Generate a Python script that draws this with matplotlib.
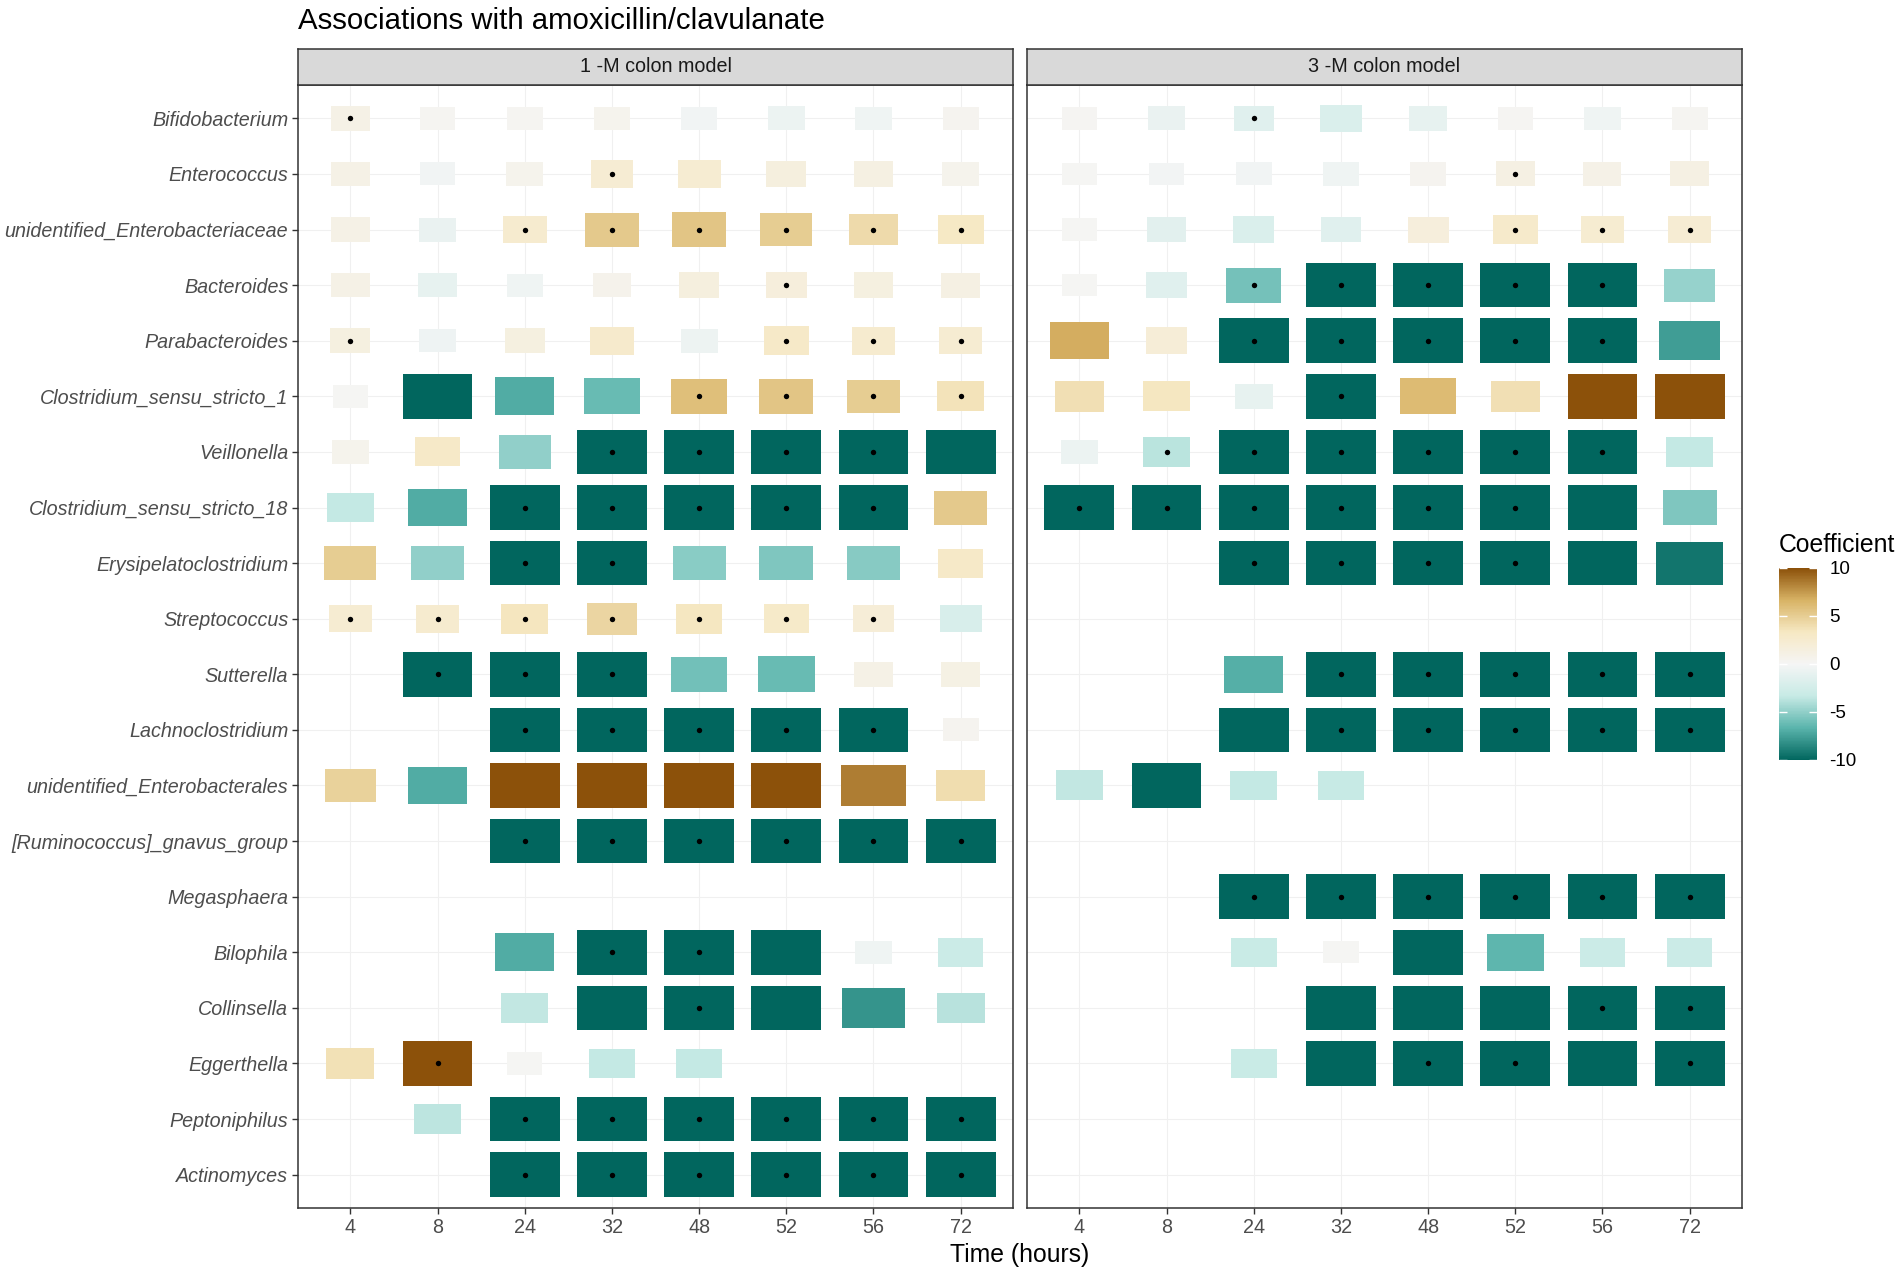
import numpy as np
import matplotlib
matplotlib.use('Agg')
import matplotlib.pyplot as plt
from matplotlib.colors import LinearSegmentedColormap, Normalize
from matplotlib.cm import ScalarMappable

plt.rcParams['font.family'] = ['Liberation Sans', 'DejaVu Sans']
plt.rcParams['axes.unicode_minus'] = False

N = None

taxa = ['Bifidobacterium', 'Enterococcus', 'unidentified_Enterobacteriaceae',
        'Bacteroides', 'Parabacteroides', 'Clostridium_sensu_stricto_1',
        'Veillonella', 'Clostridium_sensu_stricto_18', 'Erysipelatoclostridium',
        'Streptococcus', 'Sutterella', 'Lachnoclostridium',
        'unidentified_Enterobacterales', '[Ruminococcus]_gnavus_group',
        'Megasphaera', 'Bilophila', 'Collinsella', 'Eggerthella',
        'Peptoniphilus', 'Actinomyces']
times = ['4', '8', '24', '32', '48', '52', '56', '72']
panels = ['1 -M colon model', '3 -M colon model']

# coefficients per taxon (rows) and time point (columns), 1-M model
coef_1m = [
    [1.0, 0.3, 0.3, 0.5, -0.3, -0.7, -0.4, 0.4],
    [1.0, -0.3, 0.6, 2.2, 2.3, 1.5, 1.3, 0.6],
    [1.0, -0.8, 2.5, 5.3, 5.5, 5.0, 4.2, 3.2],
    [1.0, -1.0, -0.4, 0.7, 1.5, 1.7, 1.4, 1.2],
    [1.4, -0.5, 1.4, 2.7, -0.6, 3.0, 2.5, 2.3],
    [0.1, -10, -7.0, -6.2, 5.9, 5.5, 5.0, 3.6],
    [0.6, 3.0, -5.0, -10, -10, -10, -10, -10],
    [-3.4, -7.0, -10, -10, -10, -10, -10, 5.3],
    [5.0, -5.0, -10, -10, -5.2, -5.5, -5.3, 3.0],
    [2.3, 2.5, 3.5, 4.5, 3.4, 2.9, 2.0, -2.1],
    [N, -10, -10, -10, -5.9, -6.2, 1.0, 1.1],
    [N, N, -10, -10, -10, -10, -10, 0.4],
    [4.7, -7.0, 10, 10, 10, 10, 8.5, 4.0],
    [N, N, -10, -10, -10, -10, -10, -10],
    [N, N, N, N, N, N, N, N],
    [N, N, -7.0, -10, -10, -10, -0.4, -3.0],
    [N, N, -3.5, -10, -10, -10, -8.0, -3.8],
    [3.8, 10, 0.1, -3.4, -3.4, N, N, N],
    [N, -3.6, -10, -10, -10, -10, -10, -10],
    [N, N, -10, -10, -10, -10, -10, -10],
]
sig_1m = [
    [1, 0, 0, 0, 0, 0, 0, 0],
    [0, 0, 0, 1, 0, 0, 0, 0],
    [0, 0, 1, 1, 1, 1, 1, 1],
    [0, 0, 0, 0, 0, 1, 0, 0],
    [1, 0, 0, 0, 0, 1, 1, 1],
    [0, 0, 0, 0, 1, 1, 1, 1],
    [0, 0, 0, 1, 1, 1, 1, 0],
    [0, 0, 1, 1, 1, 1, 1, 0],
    [0, 0, 1, 1, 0, 0, 0, 0],
    [1, 1, 1, 1, 1, 1, 1, 0],
    [0, 1, 1, 1, 0, 0, 0, 0],
    [0, 0, 1, 1, 1, 1, 1, 0],
    [0, 0, 0, 0, 0, 0, 0, 0],
    [0, 0, 1, 1, 1, 1, 1, 1],
    [0, 0, 0, 0, 0, 0, 0, 0],
    [0, 0, 0, 1, 1, 0, 0, 0],
    [0, 0, 0, 0, 1, 0, 0, 0],
    [0, 1, 0, 0, 0, 0, 0, 0],
    [0, 0, 1, 1, 1, 1, 1, 1],
    [0, 0, 1, 1, 1, 1, 1, 1],
]

# 3-M model
coef_3m = [
    [0.2, -0.8, -1.5, -1.9, -1.0, 0.2, -0.4, 0.3],
    [0.1, -0.2, -0.3, -0.4, 0.4, 1.2, 0.9, 1.2],
    [0.1, -1.4, -1.9, -1.5, 1.7, 2.8, 2.4, 2.2],
    [0.1, -1.5, -5.8, -10, -10, -10, -10, -4.8],
    [6.8, 2.0, -10, -10, -10, -10, -10, -7.6],
    [3.9, 3.4, -1.0, -10, 6.1, 3.9, 10, 10],
    [-0.7, -3.7, -10, -10, -10, -10, -10, -3.4],
    [-10, -10, -10, -10, -10, -10, -10, -5.5],
    [N, N, -10, -10, -10, -10, -10, -9.3],
    [N, N, N, N, N, N, N, N],
    [N, N, -6.8, -10, -10, -10, -10, -10],
    [N, N, -10, -10, -10, -10, -10, -10],
    [-3.5, -10, -3.4, -3.3, N, N, N, N],
    [N, N, N, N, N, N, N, N],
    [N, N, -10, -10, -10, -10, -10, -10],
    [N, N, -3.2, 0.1, -10, -6.5, -3.0, -3.0],
    [N, N, N, -10, -10, -10, -10, -10],
    [N, N, -3.2, -10, -10, -10, -10, -10],
    [N, N, N, N, N, N, N, N],
    [N, N, N, N, N, N, N, N],
]
sig_3m = [
    [0, 0, 1, 0, 0, 0, 0, 0],
    [0, 0, 0, 0, 0, 1, 0, 0],
    [0, 0, 0, 0, 0, 1, 1, 1],
    [0, 0, 1, 1, 1, 1, 1, 0],
    [0, 0, 1, 1, 1, 1, 1, 0],
    [0, 0, 0, 1, 0, 0, 0, 0],
    [0, 1, 1, 1, 1, 1, 1, 0],
    [1, 1, 1, 1, 1, 1, 0, 0],
    [0, 0, 1, 1, 1, 1, 0, 0],
    [0, 0, 0, 0, 0, 0, 0, 0],
    [0, 0, 0, 1, 1, 1, 1, 1],
    [0, 0, 0, 1, 1, 1, 1, 1],
    [0, 0, 0, 0, 0, 0, 0, 0],
    [0, 0, 0, 0, 0, 0, 0, 0],
    [0, 0, 1, 1, 1, 1, 1, 1],
    [0, 0, 0, 0, 0, 0, 0, 0],
    [0, 0, 0, 0, 0, 0, 1, 1],
    [0, 0, 0, 0, 1, 1, 0, 1],
    [0, 0, 0, 0, 0, 0, 0, 0],
    [0, 0, 0, 0, 0, 0, 0, 0],
]

legend_ticks = [-10, -5, 0, 5, 10]

cmap = LinearSegmentedColormap.from_list(
    'brbg', ['#01665e', '#5ab4ac', '#c7eae5', '#f5f5f5', '#f6e8c3', '#d8b365', '#8c510a'])
norm = Normalize(-10, 10)

W, H = 1902, 1275
fig = plt.figure(figsize=(W / 100, H / 100), dpi=100)


def px(l, t, r, b):
    return [l / W, 1 - b / H, (r - l) / W, (b - t) / H]


def draw_panel(ax, coef, sig, show_y):
    xs, ys, cs, ss = [], [], [], []
    for i, row in enumerate(coef):
        for j, c in enumerate(row):
            if c is None:
                continue
            xs.append(j)
            ys.append(i)
            cs.append(c)
            ss.append(sig[i][j])
    xs = np.array(xs); ys = np.array(ys); cs = np.array(cs); ss = np.array(ss, bool)
    # tile size grows with |coefficient|
    f = 0.4 + 0.04 * np.clip(np.abs(cs), 0, 10)
    ax.bar(xs, f, width=f, bottom=ys - f / 2, color=cmap(norm(cs)), linewidth=0, zorder=2)
    ax.scatter(xs[ss], ys[ss], s=15, color='black', zorder=3, linewidths=0)

    ax.set_xlim(-0.6, len(times) - 0.4)
    ax.set_ylim(len(taxa) - 0.4, -0.6)
    ax.set_xticks(range(len(times)))
    ax.set_xticklabels(times)
    ax.set_yticks(range(len(taxa)))
    ax.set_yticklabels(taxa)
    ax.set_axisbelow(True)
    ax.grid(color='#F0F0F0', linewidth=0.8)
    for s in ax.spines.values():
        s.set_color('#333333')
        s.set_linewidth(1.1)
    ax.tick_params(length=4, width=1, color='#333333', labelcolor='#4D4D4D',
                   labelsize=14.2, pad=3)
    if show_y:
        for lbl in ax.get_yticklabels():
            lbl.set_style('italic')
    else:
        ax.tick_params(axis='y', left=False, labelleft=False)


def draw_strip(rect, text):
    sax = fig.add_axes(rect)
    sax.set_facecolor('#D9D9D9')
    sax.set_xticks([]); sax.set_yticks([])
    for s in sax.spines.values():
        s.set_color('#333333')
        s.set_linewidth(1.1)
    sax.text(0.5, 0.5, text, ha='center', va='center', fontsize=14.2, color='#1A1A1A',
             transform=sax.transAxes)


ax1 = fig.add_axes(px(298, 85, 1013, 1208))
ax2 = fig.add_axes(px(1027, 85, 1742, 1208))
draw_panel(ax1, coef_1m, sig_1m, True)
draw_panel(ax2, coef_3m, sig_3m, False)
draw_strip(px(298, 49, 1013, 85), panels[0])
draw_strip(px(1027, 49, 1742, 85), panels[1])

fig.text(298 / W, 1 - 29 / H, 'Associations with amoxicillin/clavulanate',
         fontsize=21.2, ha='left', va='baseline')
fig.text(1020 / W, 1 - 1262 / H, 'Time (hours)', fontsize=17.8, ha='center', va='baseline')

# colour legend
cax = fig.add_axes(px(1779, 568, 1817, 760))
cb = fig.colorbar(ScalarMappable(norm=norm, cmap=cmap), cax=cax)
cb.outline.set_visible(False)
cb.set_ticks(legend_ticks)
cax.tick_params(length=0, pad=9, labelsize=13.5, labelcolor='black')
cax.hlines(legend_ticks, 0, 0.2, colors='white', linewidth=1)
cax.hlines(legend_ticks, 0.8, 1, colors='white', linewidth=1)
fig.text(1779 / W, 1 - 552 / H, 'Coefficient', fontsize=17.8, ha='left', va='baseline')

fig.savefig('out.png', dpi=100)
